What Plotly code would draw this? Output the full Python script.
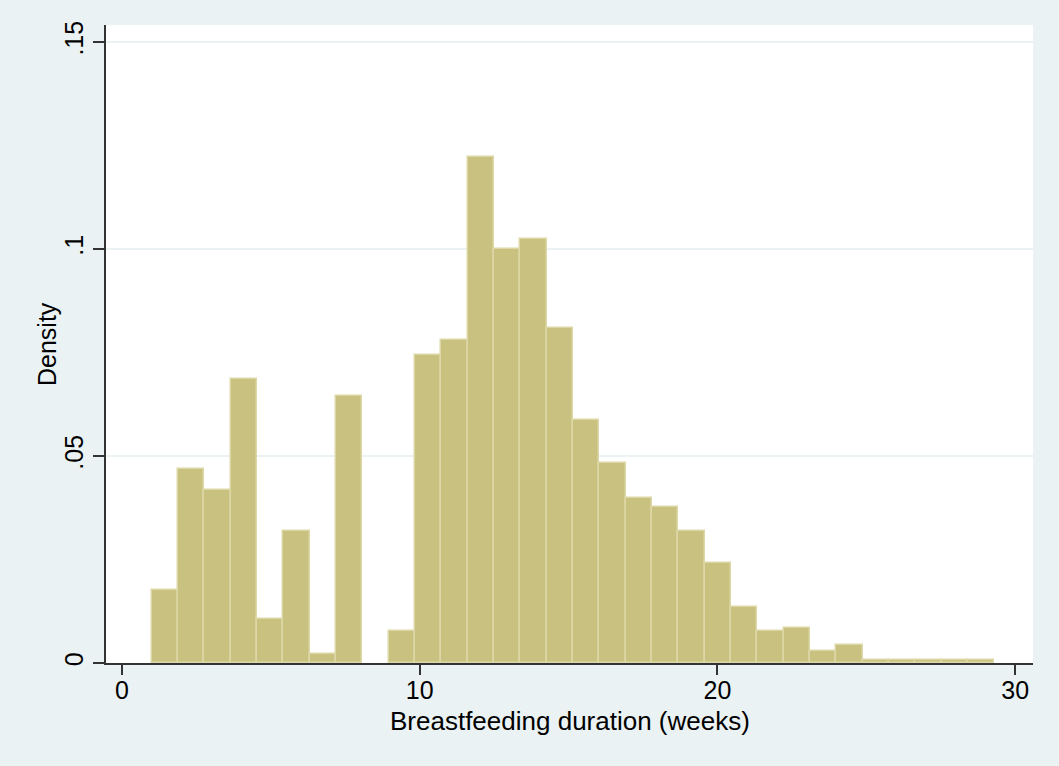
import numpy as np
import plotly.graph_objects as go

# histogram of breastfeeding duration, 32 bins from 1 to 29.3 weeks
bin_lo = 1.0
bin_hi = 29.3
density = [0.0177, 0.0469, 0.0418, 0.0687, 0.0106, 0.0319, 0.0022, 0.0646,
           0.0, 0.0077, 0.0745, 0.0781, 0.1222, 0.1001, 0.1023, 0.0810,
           0.0588, 0.0484, 0.0399, 0.0377, 0.0319, 0.0242, 0.0135, 0.0077,
           0.0085, 0.0029, 0.0044, 0.0007, 0.0007, 0.0007, 0.0007, 0.0007]
x_ticks = [0, 10, 20, 30]
y_ticks = [0, 0.05, 0.10, 0.15]
y_labels = ["0", ".05", ".1", ".15"]

n = len(density)
w = (bin_hi - bin_lo) / n
centers = bin_lo + w * (np.arange(n) + 0.5)
dens = np.array(density)
keep = dens > 0  # empty bins get no bar (and no outline)

bg = "#EAF2F3"
fam = "Liberation Sans, Arial, sans-serif"

fig = go.Figure()
fig.add_trace(go.Bar(
    x=centers[keep], y=dens[keep], width=w,
    marker=dict(color="#C9C17F", line=dict(color="#DDD7A8", width=1.5)),
    hoverinfo="x+y",
))

fig.update_layout(
    width=1059, height=766,
    margin=dict(l=106, r=26, t=25, b=103),
    paper_bgcolor=bg, plot_bgcolor="white",
    font=dict(family=fam, size=25, color="black"),
    showlegend=False, bargap=0,
)
fig.update_xaxes(
    range=[-0.537, 30.6], tickvals=x_ticks, ticks="outside", ticklen=10,
    tickwidth=1.5, tickcolor="#333", showgrid=False, zeroline=False,
    showline=True, linecolor="#333", linewidth=2, ticklabelstandoff=-6,
)
fig.update_yaxes(
    range=[0, 0.1541], tickvals=y_ticks, ticktext=y_labels, tickangle=-90,
    ticks="outside", ticklen=11, tickwidth=1.5, tickcolor="#333",
    showgrid=True, gridcolor=bg, gridwidth=2, zeroline=False,
    showline=True, linecolor="#333", linewidth=2,
)

# axis titles placed as annotations for exact positioning
fig.add_annotation(text="Breastfeeding duration (weeks)", xref="paper", yref="paper",
                   x=0.5, y=0, yshift=-58, showarrow=False, yanchor="middle",
                   font=dict(family=fam, size=26, color="black"))
fig.add_annotation(text="Density", xref="paper", yref="paper",
                   x=0, y=0.5, xshift=-59, showarrow=False, xanchor="center",
                   textangle=-90, font=dict(family=fam, size=25, color="black"))

fig.write_html("out.html", config={"displayModeBar": False},
               post_script="document.body.style.margin='0';")
